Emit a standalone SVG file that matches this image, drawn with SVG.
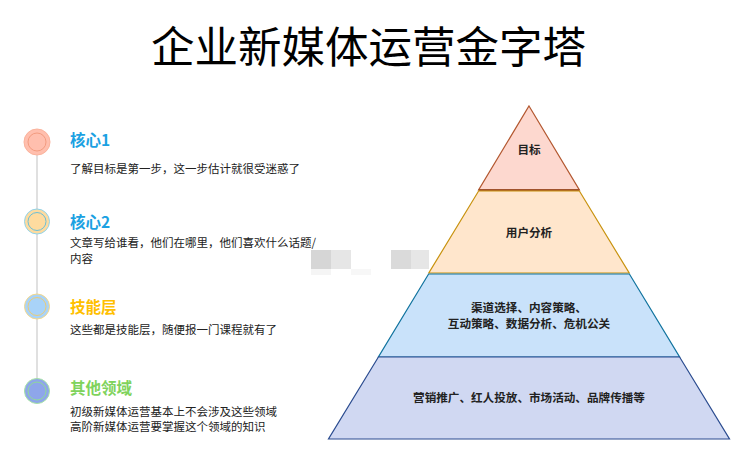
<svg xmlns="http://www.w3.org/2000/svg" width="743" height="460" viewBox="0 0 743 460">
<style>
.title{font-family:"Noto Sans CJK SC","Noto Sans",sans-serif;font-size:43.5px;fill:#000;text-anchor:middle}
.h{font-family:"Noto Sans CJK SC","Noto Sans",sans-serif;font-size:15.5px;font-weight:bold}
.d{font-family:"Noto Sans CJK SC","Noto Sans",sans-serif;font-size:11.5px;fill:#222}
.p{font-family:"Noto Sans CJK SC","Noto Sans",sans-serif;font-size:11.6px;font-weight:bold;fill:#222;text-anchor:middle}
.ring{fill:none;stroke-width:1}
</style>
<rect width="743" height="460" fill="#fff"/>
<text class="title" x="368.5" y="63">企业新媒体运营金字塔</text>

<g id="timeline">
<line x1="37" y1="155" x2="37" y2="380" stroke="#cccccc" stroke-width="1.2"/>
</g>

<g id="item1">
<circle cx="37" cy="142" r="13" fill="#ffbfae" stroke="#fbb39c" stroke-width="1"/>
<circle cx="37" cy="142" r="9" class="ring" stroke="#f39c80"/>
<text class="h" x="70" y="146" fill="#1ba1e2">核心1</text>
<text class="d" x="70" y="173">了解目标是第一步，这一步估计就很受迷惑了</text>
</g>
<g id="item2">
<circle cx="37" cy="221.5" r="12.5" fill="#fedb9f" stroke="#8fd3ea" stroke-width="1"/>
<circle cx="37" cy="221.5" r="9" class="ring" stroke="#6cbfd6"/>
<text class="h" x="70" y="228" fill="#1ba1e2">核心2</text>
<text class="d" x="70" y="247">文章写给谁看，他们在哪里，他们喜欢什么话题/</text>
<text class="d" x="70" y="263">内容</text>
</g>
<g id="item3">
<circle cx="37" cy="306.5" r="12.5" fill="#a9d3f8" stroke="#f5d889" stroke-width="1"/>
<circle cx="37" cy="306.5" r="9" class="ring" stroke="#eacc77"/>
<text class="h" x="70" y="313" fill="#ffc000">技能层</text>
<text class="d" x="70" y="334">这些都是技能层，随便报一门课程就有了</text>
</g>
<g id="item4">
<circle cx="37" cy="391" r="12.5" fill="#8ea6ea" stroke="#a6e3a4" stroke-width="1"/>
<circle cx="37" cy="391" r="9" class="ring" stroke="#8fd99a"/>
<text class="h" x="70" y="394" fill="#7fd35c">其他领域</text>
<text class="d" x="70" y="416">初级新媒体运营基本上不会涉及这些领域</text>
<text class="d" x="70" y="431">高阶新媒体运营要掌握这个领域的知识</text>
</g>

<g id="watermark">
<rect x="311" y="250" width="20" height="19" fill="#d6d6d6"/>
<rect x="331" y="250" width="20" height="19" fill="#e6e6e6"/>
<rect x="391" y="250" width="20" height="19" fill="#dadada"/>
<rect x="411" y="250" width="18" height="19" fill="#e6e6e6"/>
<rect x="311" y="269" width="20" height="6" fill="#f5f5f5"/>
<rect x="351" y="269" width="20" height="6" fill="#f7f7f7"/>
</g>

<g id="level1">
<polygon points="529,106 579.4,190 478.6,190" fill="#fdd8cf" stroke="#b3572f" stroke-width="1.2"/>
<line x1="478.6" y1="190" x2="579.4" y2="190" stroke="#a0522d" stroke-width="2"/>
<text class="p" x="529" y="153.5">目标</text>
</g>
<g id="level2">
<polygon points="478.6,191 579.4,191 629.2,273 428.8,273" fill="#ffe6cc" stroke="#c8920e" stroke-width="1.2"/>
<text class="p" x="529" y="237">用户分析</text>
</g>
<g id="level3">
<polygon points="428.6,274 629.4,274 679.6,357 378.4,357" fill="#c9e2fa" stroke="#10739e" stroke-width="1.2"/>
<text class="p" x="529" y="311.5">渠道选择、内容策略、</text>
<text class="p" x="529" y="328">互动策略、数据分析、危机公关</text>
</g>
<g id="level4">
<polygon points="378.4,357 679.6,357 729.5,439 328.5,439" fill="#d0d8f2" stroke="#2a4b8f" stroke-width="1.2"/>
<text class="p" x="529" y="402">营销推广、红人投放、市场活动、品牌传播等</text>
</g>
</svg>
